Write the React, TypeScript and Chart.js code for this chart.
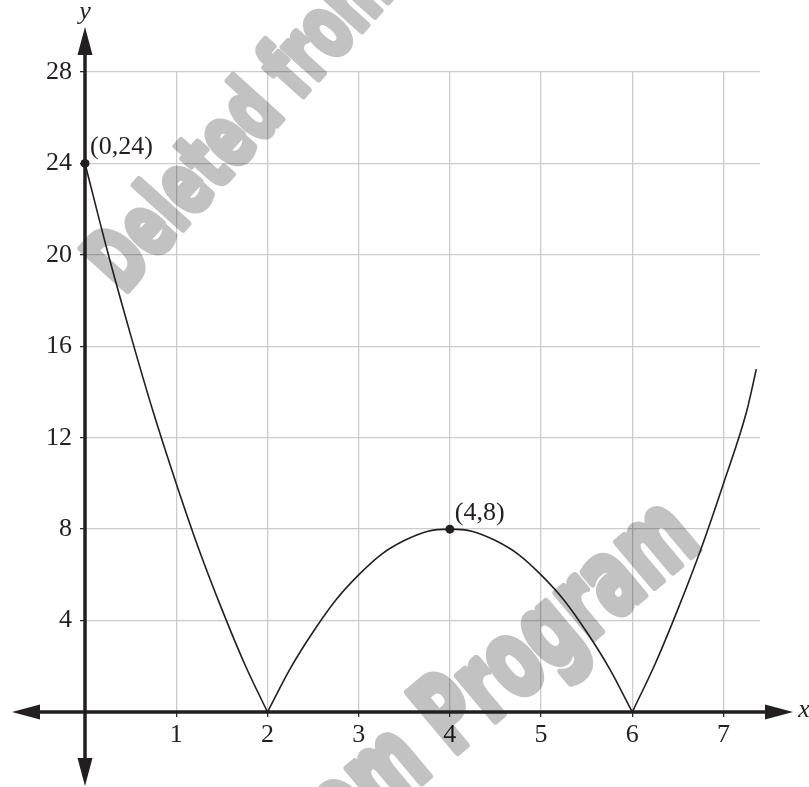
import React, { useEffect, useRef } from "react";
import { Chart, registerables } from "chart.js";

Chart.register(...registerables);

// Curve y = f(x) (three arcs meeting at the x-axis at x = 2 and x = 6)
const curveX = [0, 0.25, 0.5, 0.75, 1, 1.25, 1.5, 1.75, 2, 2.25, 2.5, 2.75, 3, 3.25, 3.5, 3.75, 4, 4.25, 4.5, 4.75, 5, 5.25, 5.5, 5.75, 6, 6.25, 6.5, 6.75, 7, 7.25, 7.36];
const curveY = [24, 20.1, 16.5, 13.1, 10, 7.1, 4.5, 2.1, 0, 1.9, 3.5, 4.9, 6, 6.9, 7.5, 7.9, 8, 7.9, 7.5, 6.9, 6, 4.9, 3.5, 1.9, 0, 2.1, 4.5, 7.1, 10, 13.1, 15];
const cornerX = [2, 6];

// Marked points
const pointX = [0, 4];
const pointY = [24, 8];
const pointLabels = ["(0,24)", "(4,8)"];

// Axes
const xMin = 0;
const xMax = 7.4;
const xStep = 1;
const yMin = 0;
const yMax = 28;
const yStep = 4;
const xAxisTitle = "x";
const yAxisTitle = "y";

const watermarkText = "Deleted from Program";

const INK = "#231f20";
const SERIF = '"Liberation Serif", "Times New Roman", serif';

function curveSegments() {
  const pts = curveX.map((x, i) => ({ x, y: curveY[i] }));
  const segs: { x: number; y: number }[][] = [];
  let cur: { x: number; y: number }[] = [];
  pts.forEach((p) => {
    cur.push(p);
    if (cornerX.includes(p.x)) {
      segs.push(cur);
      cur = [p];
    }
  });
  if (cur.length > 1) segs.push(cur);
  return segs;
}

const overlayPlugin = {
  id: "overlay",
  beforeDatasetsDraw(chart: any) {
    const ctx = chart.ctx as CanvasRenderingContext2D;
    const xs = chart.scales.x;
    const ys = chart.scales.y;
    const x0 = xs.getPixelForValue(0);
    const y0 = ys.getPixelForValue(0);
    const W = chart.width;
    const H = chart.height;

    // watermark (drawn offscreen, then multiplied onto the chart)
    const off = document.createElement("canvas");
    off.width = W;
    off.height = H;
    const o = off.getContext("2d") as CanvasRenderingContext2D;
    o.fillStyle = "#c2c2c2";
    o.strokeStyle = "#c2c2c2";
    o.lineJoin = "round";
    o.textBaseline = "middle";
    const drawWm = (cx: number, cy: number, deg: number, size: number, sx: number, sw: number, anchor: string) => {
      o.save();
      o.translate(cx, cy);
      o.rotate((deg * Math.PI) / 180);
      o.scale(sx, 1);
      o.font = `bold ${size}px "DejaVu Sans"`;
      o.lineWidth = sw;
      const idx = watermarkText.indexOf(anchor);
      const pre = o.measureText(watermarkText.slice(0, idx)).width;
      const w = o.measureText(anchor).width;
      o.fillText(watermarkText, -pre - w / 2, 0);
      o.strokeText(watermarkText, -pre - w / 2, 0);
      o.restore();
    };
    drawWm(188, 190, -48, 86, 0.64, 7, "Deleted");
    drawWm(560, 630, -40, 106, 0.64, 8, "Program");
    ctx.save();
    ctx.globalCompositeOperation = "multiply";
    ctx.drawImage(off, 0, 0);
    ctx.restore();

    // axes with arrows
    ctx.save();
    ctx.strokeStyle = INK;
    ctx.fillStyle = INK;
    ctx.lineWidth = 3.5;
    const headLen = 28;
    const headHalf = 7.5;
    const leftTip = x0 - 73;
    const rightTip = W - 16;
    const topTip = ys.getPixelForValue(yMax) - 45;
    const bottomTip = H - 1;
    ctx.beginPath();
    ctx.moveTo(leftTip + headLen - 2, y0);
    ctx.lineTo(rightTip - headLen + 2, y0);
    ctx.moveTo(x0, topTip + headLen - 2);
    ctx.lineTo(x0, bottomTip - headLen + 2);
    ctx.stroke();
    const tri = (ax: number, ay: number, bx: number, by: number, cx: number, cy: number) => {
      ctx.beginPath();
      ctx.moveTo(ax, ay);
      ctx.lineTo(bx, by);
      ctx.lineTo(cx, cy);
      ctx.closePath();
      ctx.fill();
    };
    tri(leftTip, y0, leftTip + headLen, y0 - headHalf, leftTip + headLen, y0 + headHalf);
    tri(rightTip, y0, rightTip - headLen, y0 - headHalf, rightTip - headLen, y0 + headHalf);
    tri(x0, topTip, x0 - headHalf, topTip + headLen, x0 + headHalf, topTip + headLen);
    tri(x0, bottomTip, x0 - headHalf, bottomTip - headLen, x0 + headHalf, bottomTip - headLen);
    ctx.restore();
  },
  afterDatasetsDraw(chart: any) {
    const ctx = chart.ctx as CanvasRenderingContext2D;
    const xs = chart.scales.x;
    const ys = chart.scales.y;
    const x0 = xs.getPixelForValue(0);
    const y0 = ys.getPixelForValue(0);
    ctx.save();
    ctx.fillStyle = INK;
    ctx.font = `26px ${SERIF}`;
    ctx.textAlign = "left";
    ctx.textBaseline = "middle";
    pointLabels.forEach((t, i) => {
      const px = xs.getPixelForValue(pointX[i]);
      const py = ys.getPixelForValue(pointY[i]);
      ctx.fillText(t, px + 5, py - 16);
    });
    ctx.font = `italic 26px ${SERIF}`;
    ctx.textAlign = "center";
    ctx.fillText(yAxisTitle, x0, 12);
    ctx.fillText(xAxisTitle, chart.width - 5, y0 - 2);
    ctx.restore();
  },
};

export default function App() {
  const ref = useRef<HTMLCanvasElement | null>(null);
  useEffect(() => {
    if (!ref.current) return;
    const tickFont = { family: SERIF, size: 26 };
    const segDatasets = curveSegments().map((seg) => ({
      data: seg,
      showLine: true,
      borderColor: INK,
      borderWidth: 1.6,
      pointRadius: 0,
      cubicInterpolationMode: "monotone" as const,
      clip: false as any,
    }));
    const chart = new Chart(ref.current, {
      type: "scatter",
      data: {
        datasets: [
          ...segDatasets,
          {
            data: pointX.map((x, i) => ({ x, y: pointY[i] })),
            showLine: false,
            pointRadius: 4.5,
            pointBackgroundColor: INK,
            pointBorderColor: INK,
            pointBorderWidth: 0,
            clip: false as any,
          },
        ],
      },
      plugins: [overlayPlugin],
      options: {
        responsive: false,
        animation: false,
        devicePixelRatio: 1,
        layout: { padding: { top: 72, right: 49, bottom: 0, left: 0 } },
        plugins: { legend: { display: false }, tooltip: { enabled: false } },
        scales: {
          x: {
            type: "linear",
            min: xMin,
            max: xMax,
            border: { display: false },
            grid: { color: "#cccccc", lineWidth: 1.3, tickLength: 5, tickColor: INK, tickWidth: 1.2 },
            ticks: {
              stepSize: xStep,
              includeBounds: false,
              autoSkip: false,
              maxRotation: 0,
              padding: 3,
              color: INK,
              font: tickFont,
              callback: (v: any) => (Number(v) === 0 ? "" : String(v)),
            },
            afterFit: (s: any) => {
              s.height = 75;
            },
          },
          y: {
            type: "linear",
            min: yMin,
            max: yMax,
            border: { display: false },
            grid: { color: "#cccccc", lineWidth: 1.3, tickLength: 5, tickColor: INK, tickWidth: 1.2 },
            ticks: {
              stepSize: yStep,
              includeBounds: false,
              autoSkip: false,
              padding: 8,
              color: INK,
              font: tickFont,
              callback: (v: any) => (Number(v) === 0 ? "" : String(v)),
            },
            afterFit: (s: any) => {
              s.width = 85;
            },
          },
        },
      },
    });
    return () => chart.destroy();
  }, []);
  return (
    <div style={{ position: "fixed", left: 0, top: 0, width: 809, height: 787, background: "#fff" }}>
      <canvas ref={ref} width={809} height={787} style={{ display: "block" }} />
    </div>
  );
}
